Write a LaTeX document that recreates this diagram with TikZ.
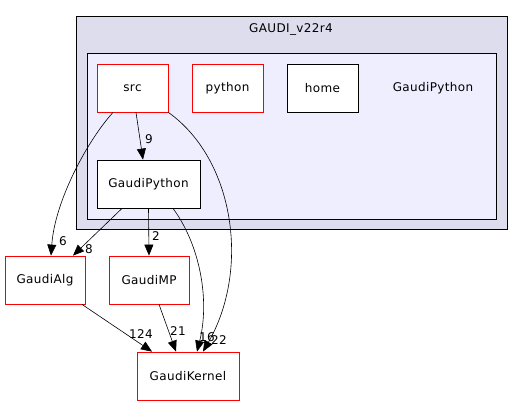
\documentclass[tikz,border=0pt]{standalone}
\usepackage{fontspec}
\setmainfont{DejaVu Sans}[LetterSpace=3]
\usetikzlibrary{arrows.meta,calc}
\definecolor{outerfill}{HTML}{DDDDEE}
\definecolor{innerfill}{HTML}{EEEEFF}
\begin{document}
\begin{tikzpicture}[x=1bp,y=-1bp,
  every node/.style={font=\fontsize{12bp}{14bp}\selectfont},
  dir/.style={draw=black,fill=white,minimum width=71bp,minimum height=48bp,inner sep=0pt,line width=0.8bp},
  reddir/.style={dir,draw=red},
  dep/.style={draw=black,line width=0.6bp,-{Triangle[length=11bp,width=9bp]}},
  lbl/.style={inner sep=0pt}]
\useasboundingbox (0,0) rectangle (527,405);
% clusters
\draw[fill=outerfill,line width=0.8bp] (76,16) rectangle (507,229);
\node (outerlbl) at (291,29) {GAUDI\_v22r4};
\draw[fill=innerfill,line width=0.8bp] (87,53) rectangle (496,219);
\node (innerlbl) at (433,88) {GaudiPython};
% nodes
\node[reddir] (src) at (132.5,88) {src};
\node[reddir] (python) at (227.5,88) {python};
\node[dir] (home) at (322.5,88) {home};
\node[dir,minimum width=103bp] (gp) at (148.5,184) {GaudiPython};
\node[reddir,minimum width=80bp] (alg) at (45,280) {GaudiAlg};
\node[reddir,minimum width=80bp] (mp) at (149,280) {GaudiMP};
\node[reddir,minimum width=102bp] (kern) at (188,376) {GaudiKernel};
% edges
\draw[dep] ([xshift=3.5bp]src.south) -- ([xshift=-5.5bp]gp.north);
\node[lbl] (l9) at (149,139) {9};
\draw[dep] ([xshift=-19.5bp]src.south) .. controls (88,140) and (55,200) .. ([xshift=6bp]alg.north);
\node[lbl] (l6) at (63,241) {6};
\draw[dep] (src.south east) .. controls (235,160) and (250,270) .. ([xshift=15bp]kern.north);
\node[lbl] (l22) at (219,340) {22};
\draw[dep] ([xshift=-26.5bp]gp.south) -- ([xshift=28bp]alg.north);
\node[lbl] (l8) at (89,249) {8};
\draw[dep] (gp.south) -- (mp.north);
\node[lbl] (l2) at (156,236) {2};
\draw[dep] ([xshift=24.5bp]gp.south) .. controls (200,245) and (210,300) .. ([xshift=9bp]kern.north);
\node[lbl] (l16) at (207,337) {16};
\draw[dep] ([xshift=37bp]alg.south) -- ([xshift=-36bp]kern.north);
\node[lbl] (l124) at (141,334) {124};
\draw[dep] ([xshift=10bp]mp.south) -- ([xshift=-12bp]kern.north);
\node[lbl] (l21) at (178,331) {21};
\end{tikzpicture}
\end{document}
